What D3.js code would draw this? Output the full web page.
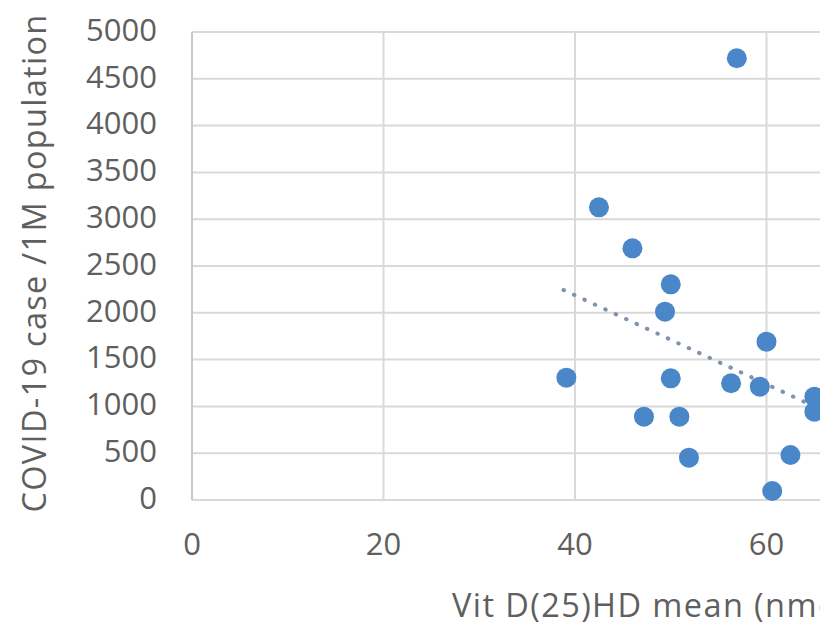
<!DOCTYPE html>
<html>
<head>
<meta charset="utf-8">
<script src="https://cdn.jsdelivr.net/npm/d3@7"></script>
<style>
  body { margin: 0; background: #fff; }
  text { font-family: "Open Sans", "Noto Sans", sans-serif; fill: #5f5f5f; }
</style>
</head>
<body>
<div id="chart"></div>
<script>
// values
var vitD  = [56.9, 42.5, 46.0, 50.0, 49.4, 60.0, 39.1, 50.0, 56.3, 59.3, 65.0, 65.0, 47.2, 50.9, 51.9, 62.5, 60.6];
var cases = [4720, 3127, 2689, 2304, 2012, 1692, 1307, 1300, 1247, 1211, 1104, 944, 890, 890, 452, 481, 96];
var trendX = [38.8, 70];
var trendY = [2244, 762];
var xTicks = [0, 20, 40, 60];
var yTicks = [0, 500, 1000, 1500, 2000, 2500, 3000, 3500, 4000, 4500, 5000];

var width = 837, height = 627;
var svg = d3.select("#chart").append("svg")
  .attr("width", width).attr("height", height);

// the reference picture is cropped on the right side
svg.append("defs").append("clipPath").attr("id", "cut")
  .append("rect").attr("x", 0).attr("y", 0).attr("width", 820).attr("height", height);

var g = svg.append("g").attr("clip-path", "url(#cut)");

var x = d3.scaleLinear().domain([0, 80]).range([192, 958]);
var y = d3.scaleLinear().domain([0, 5000]).range([500, 32]);

// horizontal grid
g.selectAll(".hgrid").data(yTicks).enter().append("line")
  .attr("class", "hgrid")
  .attr("x1", x(0)).attr("x2", x(80))
  .attr("y1", function(d){ return y(d); }).attr("y2", function(d){ return y(d); })
  .attr("stroke", "#d9d9d9").attr("stroke-width", 2);

// vertical grid
g.selectAll(".vgrid").data(xTicks).enter().append("line")
  .attr("class", "vgrid")
  .attr("x1", function(d){ return x(d); }).attr("x2", function(d){ return x(d); })
  .attr("y1", y(5000)).attr("y2", y(0))
  .attr("stroke", function(d){ return d === 0 ? "#c8c8c8" : "#d9d9d9"; })
  .attr("stroke-width", 2);

// y tick labels
g.selectAll(".ylab").data(yTicks).enter().append("text")
  .attr("class", "ylab")
  .attr("x", 157).attr("y", function(d){ return y(d) - 2; })
  .attr("dy", "0.35em")
  .attr("text-anchor", "end")
  .attr("font-size", 31)
  .text(function(d){ return d; });

// x tick labels
g.selectAll(".xlab").data(xTicks).enter().append("text")
  .attr("class", "xlab")
  .attr("x", function(d){ return x(d); }).attr("y", 555)
  .attr("text-anchor", "middle")
  .attr("font-size", 31)
  .text(function(d){ return d; });

// trend line
var line = d3.line().x(function(d){ return x(d[0]); }).y(function(d){ return y(d[1]); });
g.append("path")
  .datum(d3.zip(trendX, trendY))
  .attr("d", line)
  .attr("fill", "none")
  .attr("stroke", "#7f93ad")
  .attr("stroke-width", 4)
  .attr("stroke-linecap", "round")
  .attr("stroke-dasharray", "0.5,11");

// points
g.selectAll(".pt").data(d3.zip(vitD, cases)).enter().append("circle")
  .attr("class", "pt")
  .attr("cx", function(d){ return x(d[0]); })
  .attr("cy", function(d){ return y(d[1]); })
  .attr("r", 10)
  .attr("fill", "#4a87c9");

// axis titles
g.append("text")
  .attr("x", 452).attr("y", 617)
  .attr("font-size", 32.5)
  .attr("letter-spacing", 1.4)
  .text("Vit D(25)HD mean (nmol/L)");

g.append("text")
  .attr("transform", "translate(46,263) rotate(-90)")
  .attr("text-anchor", "middle")
  .attr("font-size", 32.5)
  .attr("letter-spacing", 1.3)
  .text("COVID-19 case /1M population");
</script>
</body>
</html>
